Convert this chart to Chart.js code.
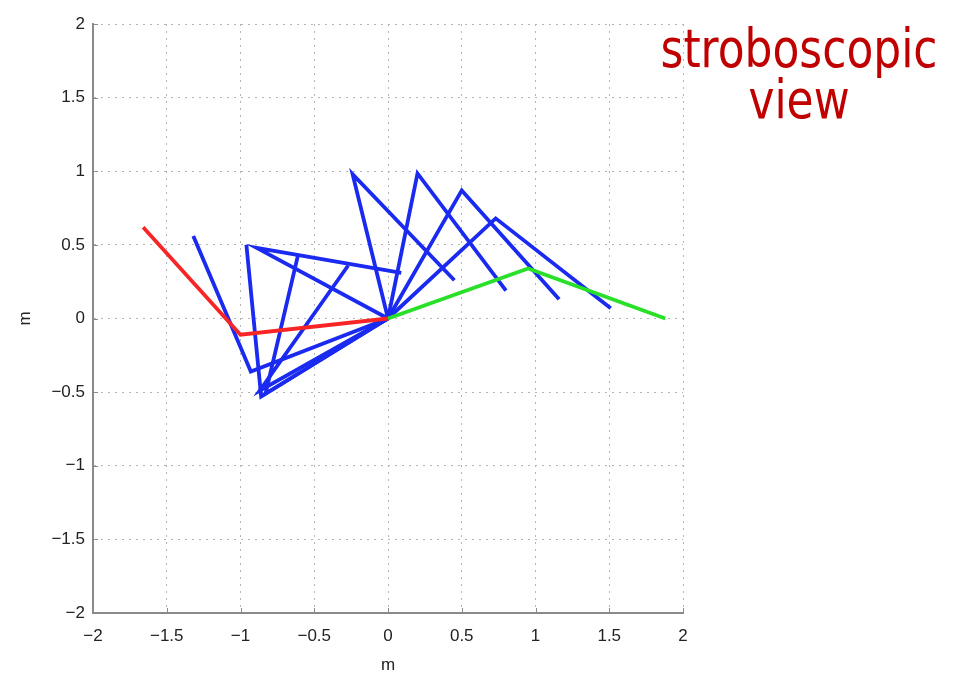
<!DOCTYPE html>
<html>
<head>
<meta charset="utf-8">
<script src="https://cdn.jsdelivr.net/npm/chart.js@4/dist/chart.umd.min.js"></script>
<style>
  html, body { margin: 0; padding: 0; background: #fff; }
  #wrap { width: 955px; height: 676px; position: relative; }
</style>
</head>
<body>
<div id="wrap"><canvas id="pendulum"></canvas></div>
<script>
// Stroboscopic frames of a double pendulum hanging from the origin.
// Frame 0 is the start (red), the last frame is the end (green), the rest are blue.
const elbowX = [-1.00, -0.93, -0.86, -0.83, -0.89, -0.87, -0.24, 0.20, 0.50, 0.73, 0.95];
const elbowY = [-0.11, -0.36, -0.53, -0.51, 0.48, -0.49, 0.98, 0.985, 0.87, 0.68, 0.34];
const tipX = [-1.66, -1.32, -0.96, -0.61, 0.09, -0.27, 0.45, 0.80, 1.16, 1.51, 1.88];
const tipY = [0.62, 0.56, 0.50, 0.43, 0.31, 0.36, 0.26, 0.19, 0.13, 0.07, 0.00];
const axisTicks = [-2, -1.5, -1, -0.5, 0, 0.5, 1, 1.5, 2];

const BLUE = '#1a2af0';
const RED = '#f72525';
const GREEN = '#28e028';

const last = elbowX.length - 1;
const datasets = elbowX.map((ex, i) => {
    let color = BLUE;
    if (i === 0) color = RED;
    if (i === last) color = GREEN;
    return {
        data: [{ x: 0, y: 0 }, { x: ex, y: elbowY[i] }, { x: tipX[i], y: tipY[i] }],
        borderColor: color,
        borderWidth: 3.8,
        pointRadius: 0,
        fill: false,
        tension: 0,
        order: (i === 0 || i === last) ? 0 : 1
    };
});

function fmt(v) {
    return v < 0 ? '\u2212' + Math.abs(v) : String(v);
}

// small tick marks pointing into the plot, like the original figure
const innerTicks = {
    id: 'innerTicks',
    afterDatasetsDraw(chart) {
        const { ctx, chartArea, scales } = chart;
        ctx.save();
        ctx.strokeStyle = '#8a8a8a';
        ctx.lineWidth = 1;
        ctx.beginPath();
        axisTicks.forEach(t => {
            const px = Math.round(scales.x.getPixelForValue(t)) + 0.5;
            ctx.moveTo(px, chartArea.bottom);
            ctx.lineTo(px, chartArea.bottom - 5);
            const py = Math.round(scales.y.getPixelForValue(t)) + 0.5;
            ctx.moveTo(chartArea.left, py);
            ctx.lineTo(chartArea.left + 5, py);
        });
        ctx.stroke();
        ctx.restore();
    }
};

const caption = {
    id: 'caption',
    afterDraw(chart) {
        const ctx = chart.ctx;
        ctx.save();
        ctx.font = '53px "DejaVu Sans"';
        ctx.fillStyle = '#c00000';
        ctx.textAlign = 'center';
        ctx.textBaseline = 'alphabetic';
        const sx = 277 / ctx.measureText('stroboscopic').width;
        ctx.translate(799, 0);
        ctx.scale(sx, 1);
        ctx.fillText('stroboscopic', 0, 67);
        ctx.fillText('view', 0, 118);
        ctx.restore();
    }
};

const tickFont = { family: '"Liberation Sans", Helvetica, Arial, sans-serif', size: 17 };

new Chart(document.getElementById('pendulum'), {
    type: 'line',
    data: { datasets: datasets },
    plugins: [innerTicks, caption],
    options: {
        responsive: true,
        maintainAspectRatio: false,
        animation: false,
        layout: { padding: { top: 24, right: 272, left: 15, bottom: 0 } },
        plugins: { legend: { display: false }, tooltip: { enabled: false } },
        scales: {
            x: {
                type: 'linear',
                min: -2, max: 2,
                afterBuildTicks: s => { s.ticks = axisTicks.map(v => ({ value: v })); },
                afterFit: s => { s.height = 63; },
                ticks: { callback: fmt, color: '#222', font: tickFont, padding: 13, maxRotation: 0 },
                grid: { color: '#b4b4b4', lineWidth: 1, drawTicks: false },
                border: { color: '#8a8a8a', width: 2, dash: [2, 5] },
                title: { display: true, text: 'm', color: '#222', font: tickFont, padding: { top: 0, bottom: 0 } }
            },
            y: {
                type: 'linear',
                min: -2, max: 2,
                afterBuildTicks: s => { s.ticks = axisTicks.map(v => ({ value: v })); },
                afterFit: s => { s.width = 78; },
                ticks: { callback: fmt, color: '#222', font: tickFont, padding: 8 },
                grid: { color: '#b4b4b4', lineWidth: 1, drawTicks: false },
                border: { color: '#8a8a8a', width: 2, dash: [2, 5] },
                title: { display: true, text: 'm', color: '#222', font: tickFont, padding: { top: 0, bottom: 0 } }
            }
        }
    }
});
</script>
</body>
</html>
